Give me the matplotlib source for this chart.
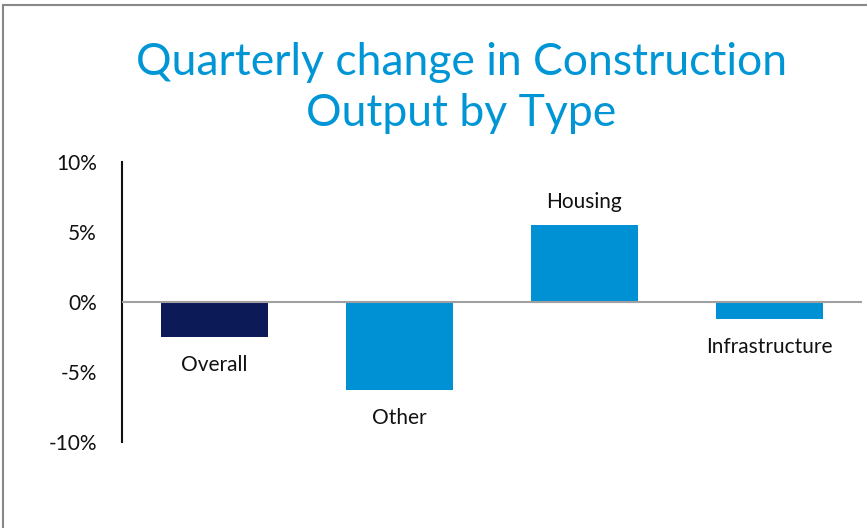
import matplotlib
matplotlib.use("Agg")
import matplotlib.pyplot as plt
from matplotlib.patches import Rectangle
from matplotlib.ticker import FuncFormatter

categories = ["Overall", "Other", "Housing", "Infrastructure"]
values = [-2.5, -6.3, 5.5, -1.2]
colors = ["#0C1A57", "#0091D5", "#0091D5", "#0091D5"]
yticks = [-10, -5, 0, 5, 10]
title = "Quarterly change in Construction\nOutput by Type"

plt.rcParams['font.family'] = ['Lato', 'DejaVu Sans']

fig = plt.figure(figsize=(8.67, 5.28), dpi=100)
ax = fig.add_axes([122/867, (528-442)/528, 740/867, 280/528])

x = list(range(len(categories)))
bars = ax.bar(x, values, width=0.58, color=colors, zorder=2)
ax.set_xlim(-0.5, len(categories) - 0.5)
ax.set_ylim(-10, 10)
ax.set_yticks(yticks)
ax.yaxis.set_major_formatter(FuncFormatter(lambda v, p: f"{v:.0f}%"))
ax.tick_params(axis='y', length=0, pad=18, labelsize=15, labelcolor="#111111")
ax.set_xticks([])
for s in ["top", "right", "bottom"]:
    ax.spines[s].set_visible(False)
ax.spines["left"].set_color("#111111")
ax.spines["left"].set_linewidth(1.5)
ax.axhline(0, color="#A0A0A0", linewidth=1.5, zorder=3)

for xi, v, name in zip(x, values, categories):
    if v >= 0:
        ax.annotate(name, (xi, v), xytext=(0, 23), textcoords="offset pixels",
                    ha="center", va="center", fontsize=15, color="#111111")
    else:
        ax.annotate(name, (xi, v), xytext=(0, -28), textcoords="offset pixels",
                    ha="center", va="center", fontsize=15, color="#111111")

fig.text(461/867, 1 - 88/528, title, ha="center", va="center", fontsize=32,
         color="#0096D6", linespacing=1.3)

fig.patches.append(Rectangle((3/867, -0.1), 1.2, 1 - 5/528 + 0.1,
                             transform=fig.transFigure, fill=False,
                             edgecolor="#888888", linewidth=1.5))

fig.savefig("out.png", dpi=100)
